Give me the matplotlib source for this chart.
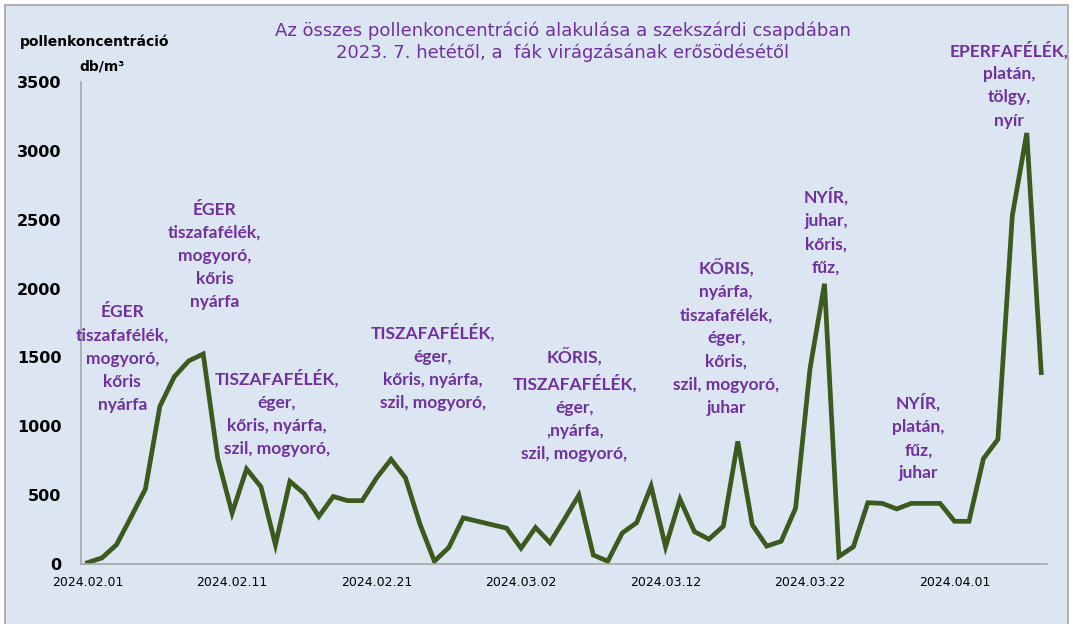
import matplotlib.pyplot as plt
import matplotlib.dates as mdates
import pandas as pd
from matplotlib.patches import Rectangle

# napi összes pollenkoncentráció (db/m3), 2024.02.01-től számolt napok
start = "2024-02-01"
days = [0, 1, 2, 3, 4, 5, 6, 7, 8, 9, 10, 11, 12, 13, 14, 15, 16, 17, 18, 19,
        20, 21, 22, 23, 24, 25, 26, 29, 30, 31, 32, 33, 34, 35, 36, 37, 38, 39,
        40, 41, 42, 43, 44, 45, 46, 47, 48, 49, 50, 51, 52, 53, 54, 55, 56, 57,
        58, 59, 60, 61, 62, 63, 64, 65, 66]
values = [10, 45, 140, 340, 545, 1145, 1360, 1475, 1525, 770, 370, 690, 560,
          140, 600, 510, 345, 490, 460, 460, 625, 760, 625, 290, 20, 120, 335,
          260, 115, 265, 155, 325, 500, 65, 20, 225, 300, 565, 125, 470, 235,
          180, 275, 890, 285, 130, 165, 405, 1420, 2035, 55, 125, 445, 440, 400,
          440, 440, 440, 310, 310, 765, 905, 2530, 3130, 1390]

tick_days = [0, 10, 20, 30, 40, 50, 60]
y_ticks = [0, 500, 1000, 1500, 2000, 2500, 3000, 3500]

title = ("Az összes pollenkoncentráció alakulása a szekszárdi csapdában\n"
         "2023. 7. hetétől, a  fák virágzásának erősödésétől")

# (szöveg, nap, db/m3 a szöveg tetejénél)
notes = [
    ("ÉGER\ntiszafafélék,\nmogyoró,\nkőris\nnyárfa", 2.4, 1885),
    ("ÉGER\ntiszafafélék,\nmogyoró,\nkőris\nnyárfa", 8.8, 2630),
    ("TISZAFAFÉLÉK,\néger,\nkőris, nyárfa,\nszil, mogyoró,", 13.1, 1415),
    ("TISZAFAFÉLÉK,\néger,\nkőris, nyárfa,\nszil, mogyoró,", 23.9, 1750),
    ("KŐRIS,\nTISZAFAFÉLÉK,\néger,\n,nyárfa,\nszil, mogyoró,", 33.7, 1575),
    ("KŐRIS,\nnyárfa,\ntiszafafélék,\néger,\nkőris,\nszil, mogyoró,\njuhar", 44.2, 2220),
    ("NYÍR,\njuhar,\nkőris,\nfűz,", 51.1, 2735),
    ("NYÍR,\nplatán,\nfűz,\njuhar", 57.5, 1240),
    ("EPERFAFÉLÉK,\nplatán,\ntölgy,\nnyír", 63.8, 3800),
]

bg = "#DCE6F2"
purple = "#7030A0"
narrow = ["DejaVu Sans"]

dates = pd.to_datetime(start) + pd.to_timedelta(days, unit="D")
t0 = pd.to_datetime(start)

fig = plt.figure(figsize=(10.73, 6.24), dpi=100)
fig.patch.set_facecolor("white")
frame = Rectangle((5 / 1073, -0.01), 1063 / 1073, 1 - 5 / 624 + 0.01,
                  transform=fig.transFigure, facecolor=bg,
                  edgecolor="#A6A6A6", linewidth=1.2, zorder=-10)
fig.patches.append(frame)

ax = fig.add_axes([81 / 1073, 60 / 624, 966 / 1073, 482 / 624])
ax.patch.set_alpha(0)
ax.plot(dates, values, color="#3B5A1E", linewidth=3.4, solid_joinstyle="miter")

ax.set_ylim(0, 3500)
ax.set_xlim(t0 - pd.Timedelta(hours=11), t0 + pd.Timedelta(days=66.4))
ax.set_yticks(y_ticks)
ax.set_yticklabels([str(v) for v in y_ticks], fontsize=11.5, fontweight="bold",
                   family=narrow)
ax.set_xticks(t0 + pd.to_timedelta(tick_days, unit="D"))
ax.xaxis.set_major_formatter(mdates.DateFormatter("%Y.%m.%d"))
for lab in ax.get_xticklabels():
    lab.set_family(narrow)
    lab.set_fontsize(9)
ax.tick_params(length=0, pad=9)
ax.tick_params(axis="y", pad=14)

for side in ["top", "right"]:
    ax.spines[side].set_visible(False)
for side in ["left", "bottom"]:
    ax.spines[side].set_color("#A6A6A6")
    ax.spines[side].set_linewidth(1.2)

for text, d, v in notes:
    ax.text(t0 + pd.Timedelta(days=d), v, text, ha="center", va="top",
            color=purple, fontsize=12.5, fontweight="bold",
            family=["Lato", "DejaVu Sans"], linespacing=1.55, clip_on=False)

fig.text(563 / 1073, 1 - 42 / 624, title, ha="center", va="center",
         color=purple, fontsize=13, family=narrow, linespacing=1.25)
fig.text(95 / 1073, 1 - 42 / 624, "pollenkoncentráció", ha="center",
         va="center", fontsize=10, fontweight="bold", family=narrow)
fig.text(102 / 1073, 1 - 66 / 624, "db/m³", ha="center", va="center",
         fontsize=10, fontweight="bold", family=narrow)

fig.savefig("out.png", dpi=100, facecolor=fig.get_facecolor())
